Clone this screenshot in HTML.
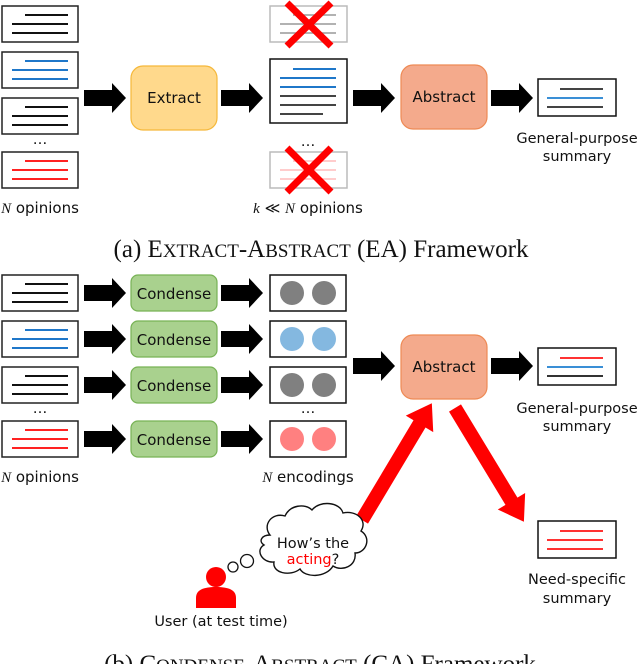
<!DOCTYPE html>
<html><head><meta charset="utf-8"><style>
html,body{margin:0;padding:0;background:#fff;}
svg{display:block;}
.s{font-family:"DejaVu Sans","Liberation Sans",sans-serif;font-size:14.5px;fill:#111;}
.b{font-family:"DejaVu Sans","Liberation Sans",sans-serif;font-size:15px;fill:#111;}
.c{font-family:"Liberation Serif",serif;font-size:25px;fill:#111;}
</style></head><body>
<svg width="638" height="664" viewBox="0 0 638 664" xmlns="http://www.w3.org/2000/svg">
<defs>
<polygon id="arr" points="0,-8 28,-8 28,-15 42,0 28,15 28,8 0,8" fill="#000"/>
</defs>

<!-- ===== TOP (a) ===== -->
<g stroke-width="2">
<rect x="2" y="6" width="76" height="36" fill="#fff" stroke="#222" stroke-width="1.5"/>
<line x1="25" y1="15" x2="68" y2="15" stroke="#111"/><line x1="12" y1="24" x2="68" y2="24" stroke="#111"/><line x1="12" y1="33" x2="68" y2="33" stroke="#111"/>
<rect x="2" y="52" width="76" height="36" fill="#fff" stroke="#222" stroke-width="1.5"/>
<line x1="25" y1="61" x2="68" y2="61" stroke="#1f77c9"/><line x1="12" y1="70" x2="68" y2="70" stroke="#1f77c9"/><line x1="12" y1="79" x2="68" y2="79" stroke="#1f77c9"/>
<rect x="2" y="98" width="76" height="36" fill="#fff" stroke="#222" stroke-width="1.5"/>
<line x1="25" y1="107" x2="68" y2="107" stroke="#111"/><line x1="12" y1="116" x2="68" y2="116" stroke="#111"/><line x1="12" y1="125" x2="68" y2="125" stroke="#111"/>
<rect x="2" y="152" width="76" height="36" fill="#fff" stroke="#222" stroke-width="1.5"/>
<line x1="25" y1="161" x2="68" y2="161" stroke="#f22"/><line x1="12" y1="170" x2="68" y2="170" stroke="#f22"/><line x1="12" y1="179" x2="68" y2="179" stroke="#f22"/>
</g>
<text x="40" y="144" class="s" text-anchor="middle">…</text>
<text x="40" y="213" class="b" text-anchor="middle"><tspan font-style="italic" font-family="Liberation Serif">N</tspan> opinions</text>

<use href="#arr" x="84" y="98"/>
<rect x="131" y="66" width="86" height="64" rx="12" fill="#FFD98C" stroke="#F5B83A" stroke-width="1.2"/>
<text x="174" y="103" class="b" text-anchor="middle">Extract</text>
<use href="#arr" x="221" y="98"/>

<rect x="270" y="6" width="77" height="36" fill="#fff" stroke="#bbb" stroke-width="1.5"/>
<g stroke="#999" stroke-width="1.6"><line x1="293" y1="15" x2="336" y2="15"/><line x1="280" y1="24" x2="336" y2="24"/><line x1="280" y1="33" x2="336" y2="33"/></g>
<g stroke="#f00" stroke-width="7"><line x1="287" y1="3" x2="331" y2="46"/><line x1="331" y1="3" x2="287" y2="46"/></g>
<rect x="270" y="59" width="77" height="64" fill="#fff" stroke="#111" stroke-width="1.5"/>
<g stroke-width="2"><line x1="293" y1="69" x2="336" y2="69" stroke="#1f77c9"/><line x1="280" y1="78" x2="336" y2="78" stroke="#1f77c9"/><line x1="280" y1="87" x2="336" y2="87" stroke="#1f77c9"/>
<line x1="280" y1="96" x2="336" y2="96" stroke="#444"/><line x1="280" y1="105" x2="336" y2="105" stroke="#444"/><line x1="280" y1="114" x2="323" y2="114" stroke="#444"/></g>
<text x="308" y="146" class="s" text-anchor="middle">…</text>
<rect x="270" y="152" width="77" height="36" fill="#fff" stroke="#bbb" stroke-width="1.5"/>
<g stroke="#fbb" stroke-width="1.6"><line x1="293" y1="161" x2="336" y2="161"/><line x1="280" y1="170" x2="336" y2="170"/><line x1="280" y1="179" x2="336" y2="179"/></g>
<g stroke="#f00" stroke-width="7"><line x1="287" y1="148" x2="331" y2="192"/><line x1="331" y1="148" x2="287" y2="192"/></g>
<text x="308" y="213" class="b" text-anchor="middle"><tspan font-style="italic" font-family="Liberation Serif">k</tspan> ≪ <tspan font-style="italic" font-family="Liberation Serif">N</tspan> opinions</text>

<use href="#arr" x="353" y="98"/>
<rect x="401" y="65" width="86" height="64" rx="12" fill="#F4AA8C" stroke="#EE8A55" stroke-width="1.2"/>
<text x="444" y="102" class="b" text-anchor="middle">Abstract</text>
<use href="#arr" x="491" y="98"/>
<rect x="538" y="79" width="78" height="37" fill="#fff" stroke="#111" stroke-width="1.5"/>
<g stroke-width="2"><line x1="560" y1="89" x2="603" y2="89" stroke="#444"/><line x1="547" y1="98" x2="603" y2="98" stroke="#3a8fd6"/><line x1="547" y1="107" x2="603" y2="107" stroke="#444"/></g>
<text x="577" y="143" class="s" text-anchor="middle">General-purpose</text>
<text x="577" y="161" class="s" text-anchor="middle">summary</text>

<text x="321" y="257" class="c" text-anchor="middle">(a) E<tspan font-size="19">XTRACT</tspan>-A<tspan font-size="19">BSTRACT</tspan> (EA) Framework</text>

<!-- ===== BOTTOM (b) ===== -->
<g stroke-width="2">
<rect x="2" y="275" width="76" height="36" fill="#fff" stroke="#222" stroke-width="1.5"/>
<line x1="25" y1="284" x2="68" y2="284" stroke="#111"/><line x1="12" y1="293" x2="68" y2="293" stroke="#111"/><line x1="12" y1="302" x2="68" y2="302" stroke="#111"/>
<rect x="2" y="321" width="76" height="36" fill="#fff" stroke="#222" stroke-width="1.5"/>
<line x1="25" y1="330" x2="68" y2="330" stroke="#1f77c9"/><line x1="12" y1="339" x2="68" y2="339" stroke="#1f77c9"/><line x1="12" y1="348" x2="68" y2="348" stroke="#1f77c9"/>
<rect x="2" y="367" width="76" height="36" fill="#fff" stroke="#222" stroke-width="1.5"/>
<line x1="25" y1="376" x2="68" y2="376" stroke="#111"/><line x1="12" y1="385" x2="68" y2="385" stroke="#111"/><line x1="12" y1="394" x2="68" y2="394" stroke="#111"/>
<rect x="2" y="421" width="76" height="36" fill="#fff" stroke="#222" stroke-width="1.5"/>
<line x1="25" y1="430" x2="68" y2="430" stroke="#f22"/><line x1="12" y1="439" x2="68" y2="439" stroke="#f22"/><line x1="12" y1="448" x2="68" y2="448" stroke="#f22"/>
</g>
<text x="40" y="413" class="s" text-anchor="middle">…</text>
<text x="40" y="482" class="b" text-anchor="middle"><tspan font-style="italic" font-family="Liberation Serif">N</tspan> opinions</text>

<g>
<use href="#arr" x="84" y="293"/><use href="#arr" x="84" y="339"/><use href="#arr" x="84" y="385"/><use href="#arr" x="84" y="439"/>
<use href="#arr" x="221" y="293"/><use href="#arr" x="221" y="339"/><use href="#arr" x="221" y="385"/><use href="#arr" x="221" y="439"/>
</g>
<g fill="#A9D18E" stroke="#77B255" stroke-width="1.2">
<rect x="131" y="275" width="86" height="36" rx="7"/><rect x="131" y="321" width="86" height="36" rx="7"/>
<rect x="131" y="367" width="86" height="36" rx="7"/><rect x="131" y="421" width="86" height="36" rx="7"/>
</g>
<g class="b" text-anchor="middle">
<text x="174" y="299">Condense</text><text x="174" y="345">Condense</text><text x="174" y="391">Condense</text><text x="174" y="445">Condense</text>
</g>
<g fill="#fff" stroke="#111" stroke-width="1.5">
<rect x="270" y="275" width="76" height="36"/><rect x="270" y="321" width="76" height="36"/>
<rect x="270" y="367" width="76" height="36"/><rect x="270" y="421" width="76" height="36"/>
</g>
<circle cx="292" cy="293" r="12" fill="#808080"/><circle cx="324" cy="293" r="12" fill="#808080"/>
<circle cx="292" cy="339" r="12" fill="#84B8E0"/><circle cx="324" cy="339" r="12" fill="#84B8E0"/>
<circle cx="292" cy="385" r="12" fill="#808080"/><circle cx="324" cy="385" r="12" fill="#808080"/>
<circle cx="292" cy="439" r="12" fill="#FF8080"/><circle cx="324" cy="439" r="12" fill="#FF8080"/>
<text x="308" y="413" class="s" text-anchor="middle">…</text>
<text x="308" y="482" class="b" text-anchor="middle"><tspan font-style="italic" font-family="Liberation Serif">N</tspan> encodings</text>

<use href="#arr" x="353" y="366"/>
<rect x="401" y="335" width="86" height="64" rx="12" fill="#F4AA8C" stroke="#EE8A55" stroke-width="1.2"/>
<text x="444" y="372" class="b" text-anchor="middle">Abstract</text>
<use href="#arr" x="491" y="366"/>
<rect x="538" y="348" width="78" height="37" fill="#fff" stroke="#111" stroke-width="1.5"/>
<g stroke-width="2"><line x1="560" y1="358" x2="603" y2="358" stroke="#f33"/><line x1="547" y1="367" x2="603" y2="367" stroke="#3a8fd6"/><line x1="547" y1="376" x2="603" y2="376" stroke="#333"/></g>
<text x="577" y="413" class="s" text-anchor="middle">General-purpose</text>
<text x="577" y="431" class="s" text-anchor="middle">summary</text>

<!-- red arrows -->
<polygon transform="translate(362,520) rotate(-59.1)" points="0,-7 112,-7 112,-16 136,0 112,16 112,7 0,7" fill="#f00"/>
<polygon transform="translate(455,408) rotate(58.8)" points="0,-7 109,-7 109,-16 133,0 109,16 109,7 0,7" fill="#f00"/>

<rect x="538" y="521" width="78" height="37" fill="#fff" stroke="#111" stroke-width="1.5"/>
<g stroke-width="2" stroke="#f33"><line x1="560" y1="531" x2="603" y2="531"/><line x1="547" y1="540" x2="603" y2="540"/><line x1="547" y1="549" x2="603" y2="549"/></g>
<text x="577" y="584" class="s" text-anchor="middle">Need-specific</text>
<text x="577" y="603" class="s" text-anchor="middle">summary</text>

<!-- cloud -->
<path d="M270,535 C262,525 272,512 285,516 C290,505 305,503 312,510 C320,500 340,502 343,513 C356,510 368,520 361,531 C372,538 366,553 355,553 C357,566 342,572 333,566 C326,578 305,578 300,569 C290,577 272,573 274,562 C262,563 255,550 264,545 C258,541 262,535 270,535 Z" fill="#fff" stroke="#111" stroke-width="1.4"/>
<text x="313" y="548" class="s" text-anchor="middle" font-size="13">How’s the</text>
<text x="313" y="564" class="s" text-anchor="middle" font-size="13"><tspan fill="#f00">acting</tspan>?</text>
<circle cx="233" cy="567" r="5" fill="#fff" stroke="#111" stroke-width="1.3"/>
<circle cx="247" cy="561" r="6.5" fill="#fff" stroke="#111" stroke-width="1.3"/>

<!-- user -->
<circle cx="216" cy="577" r="10" fill="#f00"/>
<path d="M196,608 L196,598 C196,590 203,587 216,587 C229,587 236,590 236,598 L236,608 Z" fill="#f00"/>
<text x="221" y="626" class="s" text-anchor="middle">User (at test time)</text>

<text x="320" y="672" class="c" text-anchor="middle">(b) C<tspan font-size="19">ONDENSE</tspan>-A<tspan font-size="19">BSTRACT</tspan> (CA) Framework</text>
</svg>
</body></html>
